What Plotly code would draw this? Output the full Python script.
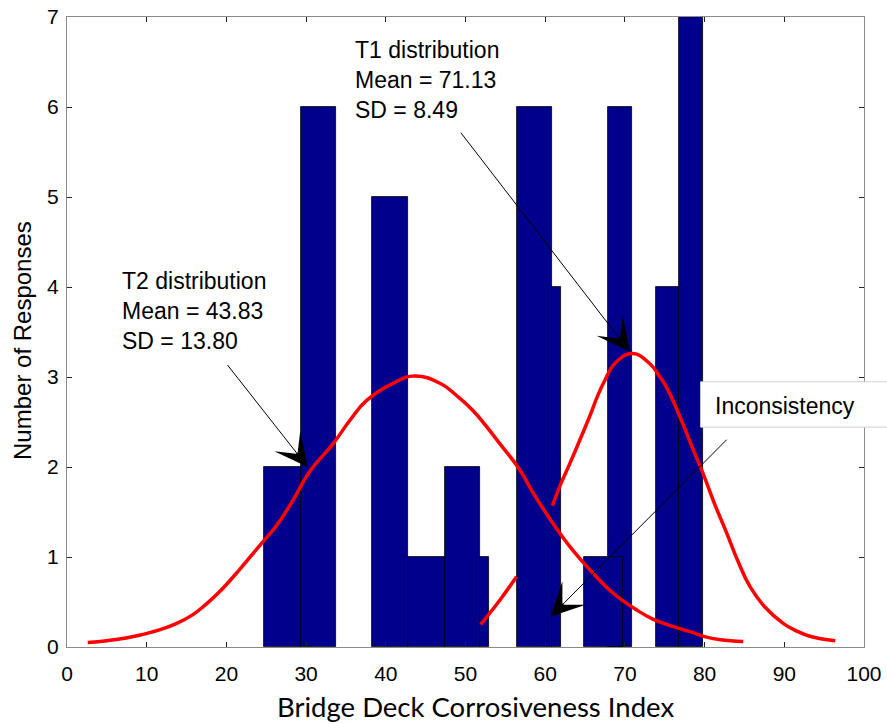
import plotly.graph_objects as go

# ---- histogram bars (left edge, right edge, count) ----
bar_left = [24.74, 29.37, 38.33, 42.79, 47.37, 51.88, 56.42, 60.87, 67.90, 64.90, 73.85, 76.80]
bar_right = [29.37, 33.70, 42.79, 47.37, 51.88, 53.01, 60.87, 62.00, 70.90, 69.70, 76.80, 79.75]
bar_count = [2, 6, 5, 1, 2, 1, 6, 4, 6, 1, 4, 7]

# ---- fitted curves ----
t2_x = [2.6, 5.0, 7.4, 9.5, 11.6, 13.7, 15.8, 17.5, 19.1, 21.65, 24.2, 26.3, 28.35, 30.45, 33.4,
        35.5, 37.6, 40.9, 43.6, 46.8, 48.8, 50.9, 54.3, 56.8, 58.5, 61.0, 63.5, 66.0, 68.5, 71.5,
        73.5, 75.6, 78.15, 80.25, 82.0, 84.85]
t2_y = [0.05, 0.07, 0.10, 0.14, 0.19, 0.26, 0.36, 0.48, 0.61, 0.86, 1.13, 1.35, 1.63, 1.95, 2.26,
        2.52, 2.74, 2.93, 3.01, 2.93, 2.80, 2.63, 2.26, 1.97, 1.71, 1.37, 1.07, 0.82, 0.60, 0.41,
        0.31, 0.24, 0.17, 0.11, 0.08, 0.06]

t1_x = [51.9, 54.3, 56.4, None, 60.9, 62.0, 63.1, 65.2, 67.3, 68.95, 71.0, 73.1, 74.4, 75.2,
        76.9, 78.3, 79.8, 81.3, 82.8, 84.2, 85.7, 87.5, 89.9, 91.5, 93.2, 96.4]
t1_y = [0.25, 0.52, 0.78, None, 1.57, 1.82, 2.04, 2.48, 2.93, 3.17, 3.26, 3.15, 3.0, 2.89,
        2.56, 2.25, 1.93, 1.58, 1.26, 0.95, 0.67, 0.45, 0.26, 0.18, 0.12, 0.07]

x_ticks = [0, 10, 20, 30, 40, 50, 60, 70, 80, 90, 100]
y_ticks = [0, 1, 2, 3, 4, 5, 6, 7]

centers = [(l + r) / 2 for l, r in zip(bar_left, bar_right)]
widths = [r - l for l, r in zip(bar_left, bar_right)]

fig = go.Figure()
fig.add_trace(go.Bar(
    x=centers, y=bar_count, width=widths,
    marker=dict(color="#00008C", line=dict(color="black", width=0.8)),
    showlegend=False, hoverinfo="skip",
))
curve_line = dict(color="#FF0000", width=3.5, shape="spline", smoothing=1.3)
fig.add_trace(go.Scatter(x=t2_x, y=t2_y, mode="lines", line=curve_line,
                         connectgaps=False, showlegend=False))
fig.add_trace(go.Scatter(x=t1_x, y=t1_y, mode="lines", line=curve_line,
                         connectgaps=False, showlegend=False))

axis_common = dict(
    showgrid=False, zeroline=False, showline=True, linecolor="#8a8a8a", linewidth=1,
    ticks="inside", ticklen=5, tickwidth=1, tickcolor="#222222", mirror="ticks",
    automargin=False,
    tickfont=dict(family="Liberation Sans, Arial", size=21, color="black"),
)

fig.update_layout(
    width=887, height=724,
    margin=dict(l=67, r=23, t=17, b=77, autoexpand=False),
    paper_bgcolor="white", plot_bgcolor="white",
    bargap=0,
    xaxis=dict(range=[0, 100], tickvals=x_ticks, ticklabelstandoff=8, **axis_common),
    yaxis=dict(range=[0, 7], tickvals=y_ticks, ticklabelstandoff=3, **axis_common),
)

txt_font = dict(family="Liberation Sans, Arial", size=23, color="black")

# inconsistency box
fig.add_shape(type="rect", xref="paper", yref="paper",
              x0=0.795, x1=1.2, y0=0.349, y1=0.421,
              fillcolor="white", line=dict(color="#cfcfcf", width=1), layer="above")

annotations = [
    dict(text="T1 distribution<br>Mean = 71.13<br>SD = 8.49", x=35.9, y=6.3,
         xanchor="left", yanchor="middle", align="left"),
    dict(text="T2 distribution<br>Mean = 43.83<br>SD = 13.80", x=6.59, y=3.73,
         xanchor="left", yanchor="middle", align="left"),
    dict(text="Inconsistency", x=81.0, y=2.68, xanchor="left", yanchor="middle", align="left"),
]
for a in annotations:
    fig.add_annotation(xref="x", yref="y", showarrow=False, font=txt_font, **a)

arrows = [
    (49.28, 5.73, 70.62, 3.28),
    (19.99, 3.15, 30.2, 2.0),
    (82.96, 2.32, 60.7, 0.34),
]
for tx, ty, hx, hy in arrows:
    fig.add_annotation(x=hx, y=hy, ax=tx, ay=ty, xref="x", yref="y", axref="x", ayref="y",
                       text="", showarrow=True, arrowhead=3, arrowsize=5.5, arrowwidth=1,
                       arrowcolor="black")

# axis titles
fig.add_annotation(text="Number of Responses", xref="paper", yref="paper",
                   x=-0.055, y=0.486, textangle=-90, showarrow=False,
                   xanchor="center", yanchor="middle",
                   font=dict(family="Liberation Sans, Arial", size=24, color="black"))
fig.add_annotation(text="Bridge Deck Corrosiveness Index", xref="paper", yref="paper",
                   x=0.513, y=-0.0937, showarrow=False, xanchor="center", yanchor="middle",
                   font=dict(family="Lato, Open Sans", size=27.5, color="black"))

fig.write_html("out.html")
